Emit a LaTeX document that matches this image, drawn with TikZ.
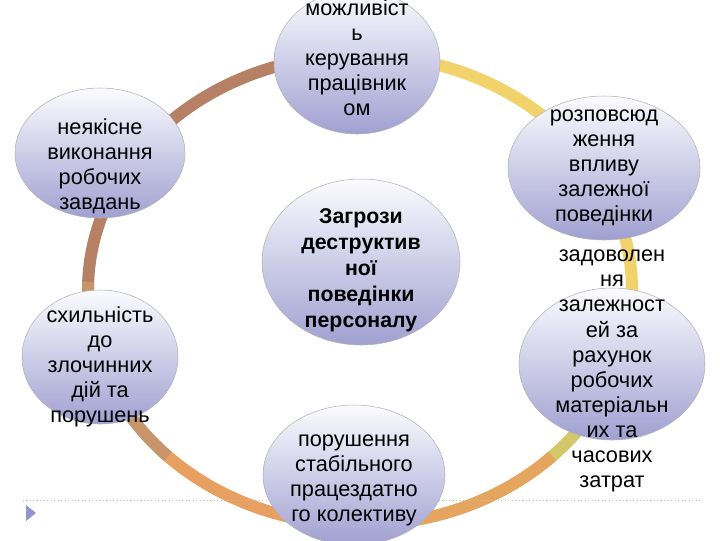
\documentclass[tikz,border=0pt]{standalone}
\usepackage{fontspec}
\setmainfont{Liberation Sans}
\usetikzlibrary{shapes.geometric}
\begin{document}
\begin{tikzpicture}[x=0.75pt,y=-0.75pt,
  bub/.style={ellipse,draw=gray!60,top color=white!85!blue!10,bottom color=blue!35!gray!55,inner sep=0pt},
  txt/.style={align=center,font=\fontsize{16.3}{18.8}\selectfont},
  ring/.style={line width=9pt}]
\useasboundingbox (0,0) rectangle (720,540);
\fill[white] (0,0) rectangle (720,540);
\def\cx{360}\def\cy{290}
\foreach \a/\b/\c in {180/272/b58064,270/362/f2d36b,0/47/d2c86a,45/92/e6a55e,90/137/e8a060,135/182/c8946a}{
  \definecolor{rc}{HTML}{\c}
  \draw[ring,rc] ({\cx+272*cos(\a)},{\cy+235*sin(\a)}) arc[start angle=\a,end angle=\b,x radius=272,y radius=235];
}
\draw[gray!50,dotted,line width=0.6pt] (23,500) -- (700,500);
\fill[blue!40!gray!60] (26,505) -- (36,513) -- (26,521) -- cycle;
\node[bub,minimum width=198*0.75pt,minimum height=166*0.75pt] (c) at (361,262) {};
\node[txt,font=\bfseries\fontsize{16}{19.5}\selectfont] at (361,270) {Загрози\\деструктив\\ної\\поведінки\\персоналу};
\node[bub,minimum width=166*0.75pt,minimum height=144*0.75pt] (t) at (357,62) {};
\node[txt] at (357,58) {можливіст\\ь\\керування\\працівник\\ом};
\node[bub,minimum width=170*0.75pt,minimum height=130*0.75pt] (lt) at (100,153) {};
\node[txt] at (100,166) {неякісне\\виконання\\робочих\\завдань};
\node[bub,minimum width=156*0.75pt,minimum height=134*0.75pt] (lb) at (100,357) {};
\node[txt] at (100,367) {схильність\\до\\злочинних\\дій та\\порушень};
\node[bub,minimum width=192*0.75pt,minimum height=144*0.75pt] (rt) at (604,168) {};
\node[txt] at (604,168) {розповсюд\\ження\\впливу\\залежної\\поведінки};
\node[bub,minimum width=186*0.75pt,minimum height=152*0.75pt] (rb) at (612,364) {};
\node[txt] at (612,371) {задоволен\\ня\\залежност\\ей за\\рахунок\\робочих\\матеріальн\\их та\\часових\\затрат};
\node[bub,minimum width=182*0.75pt,minimum height=140*0.75pt] (b) at (354,475) {};
\node[txt] at (354,480) {порушення\\стабільного\\працездатно\\го колективу};
\end{tikzpicture}
\end{document}
